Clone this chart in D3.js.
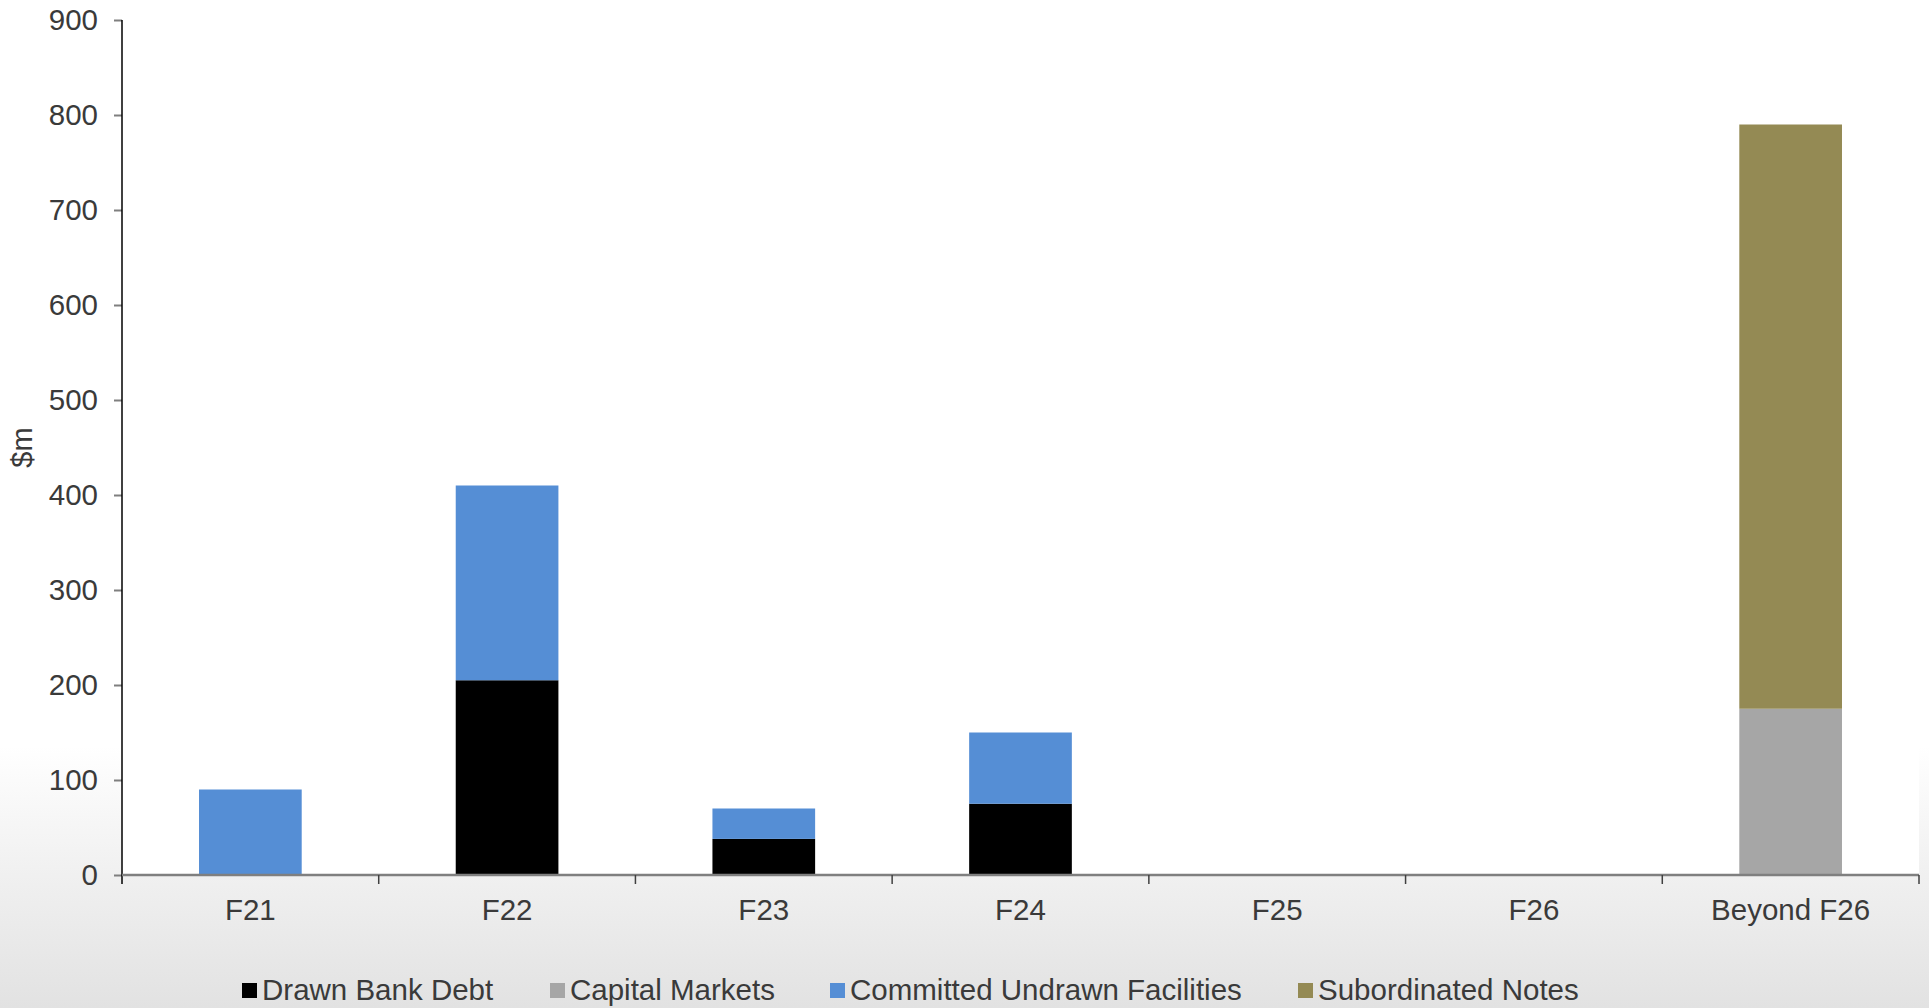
<!DOCTYPE html>
<html>
<head>
<meta charset="utf-8">
<script src="https://cdn.jsdelivr.net/npm/d3@7"></script>
<style>
  html, body { margin: 0; padding: 0; }
  body { width: 1929px; height: 1008px; overflow: hidden; font-family: "Liberation Sans", Arial, sans-serif; }
  .axis text { fill: #3a3a3a; font-size: 29.5px; font-family: "Liberation Sans", Arial, sans-serif; }
</style>
</head>
<body>
<div id="chart"></div>
<script>
// data ($m)
var categories = ["F21", "F22", "F23", "F24", "F25", "F26", "Beyond F26"];
var seriesNames = ["Drawn Bank Debt", "Capital Markets", "Committed Undrawn Facilities", "Subordinated Notes"];
var drawnBankDebt = [0, 205, 38, 75, 0, 0, 0];
var capitalMarkets = [0, 0, 0, 0, 0, 0, 175];
var committedUndrawn = [90, 205, 32, 75, 0, 0, 0];
var subordinatedNotes = [0, 0, 0, 0, 0, 0, 615];
var yTicks = [0, 100, 200, 300, 400, 500, 600, 700, 800, 900];
var colors = ["#000000", "#a6a6a6", "#558ed5", "#948a54"];

var W = 1929, H = 1008;
var margin = {top: 20, right: 10, bottom: 133, left: 122};

var svg = d3.select("#chart").append("svg")
    .attr("width", W)
    .attr("height", H);

// slide-ish background: white fading to light grey at the bottom
var defs = svg.append("defs");
var grad = defs.append("linearGradient")
    .attr("id", "bg")
    .attr("x1", 0).attr("y1", 0).attr("x2", 0).attr("y2", 1);
grad.append("stop").attr("offset", "0%").attr("stop-color", "#ffffff");
grad.append("stop").attr("offset", "74%").attr("stop-color", "#ffffff");
grad.append("stop").attr("offset", "86%").attr("stop-color", "#f1f1f1");
grad.append("stop").attr("offset", "100%").attr("stop-color", "#e2e2e2");
svg.append("rect").attr("width", W).attr("height", H).attr("fill", "url(#bg)");

var x0 = margin.left, x1 = W - margin.right;
var y0 = H - margin.bottom, y1 = margin.top;

// plot area stays white
svg.append("rect")
    .attr("x", x0).attr("y", y1)
    .attr("width", x1 - x0).attr("height", y0 - y1)
    .attr("fill", "#ffffff");

var x = d3.scaleBand()
    .domain(categories)
    .range([x0, x1])
    .paddingInner(0.6)
    .paddingOuter(0.3);

var y = d3.scaleLinear()
    .domain([0, 900])
    .range([y0, y1]);

var table = categories.map(function (c, i) {
    return {
        cat: c,
        "Drawn Bank Debt": drawnBankDebt[i],
        "Capital Markets": capitalMarkets[i],
        "Committed Undrawn Facilities": committedUndrawn[i],
        "Subordinated Notes": subordinatedNotes[i]
    };
});

var stacked = d3.stack().keys(seriesNames)(table);

var layers = svg.append("g").selectAll("g")
    .data(stacked)
    .enter().append("g")
    .attr("fill", function (d, i) { return colors[i]; });

layers.selectAll("rect")
    .data(function (d) { return d; })
    .enter().append("rect")
    .filter(function (d) { return d[1] - d[0] > 0; })
    .attr("x", function (d) { return x(d.data.cat); })
    .attr("y", function (d) { return y(d[1]); })
    .attr("width", x.bandwidth())
    .attr("height", function (d) { return y(d[0]) - y(d[1]); });

/* y axis */
var yAxis = svg.append("g")
    .attr("class", "axis")
    .attr("transform", "translate(" + x0 + ",0)")
    .call(d3.axisLeft(y).tickValues(yTicks).tickSize(8).tickPadding(16));
yAxis.select(".domain").remove();
yAxis.selectAll(".tick line").attr("stroke", "#7f7f7f").attr("stroke-width", 2);
svg.append("line")
    .attr("x1", x0).attr("x2", x0)
    .attr("y1", y1).attr("y2", y0 + 9)
    .attr("stroke", "#000").attr("stroke-width", 1.5);

/* x axis */
var xAxis = svg.append("g")
    .attr("class", "axis")
    .attr("transform", "translate(0," + y0 + ")")
    .call(d3.axisBottom(x).tickSize(0).tickPadding(24));
xAxis.select(".domain").remove();
svg.append("line")
    .attr("x1", x0).attr("x2", x1)
    .attr("y1", y0).attr("y2", y0)
    .attr("stroke", "#7f7f7f").attr("stroke-width", 2.5);

// tick marks sit on the category boundaries
var step = x.step();
var bounds = categories.map(function (c) { return x(c) - step * x.paddingInner() / 2; });
bounds.push(x1);
svg.append("g").selectAll("line")
    .data(bounds.slice(1))
    .enter().append("line")
    .attr("x1", function (d) { return d; })
    .attr("x2", function (d) { return d; })
    .attr("y1", y0)
    .attr("y2", y0 + 9)
    .attr("stroke", "#404040").attr("stroke-width", 1.5);

/* y label */
svg.append("text")
    .attr("transform", "translate(32," + ((y0 + y1) / 2) + ") rotate(-90)")
    .attr("text-anchor", "middle")
    .attr("fill", "#3a3a3a")
    .style("font-size", "29px")
    .text("$m");

/* legend */
var legend = svg.append("g").attr("transform", "translate(0,990)");
var item = legend.selectAll("g")
    .data(seriesNames)
    .enter().append("g");
item.append("rect")
    .attr("x", 0).attr("y", -7)
    .attr("width", 15).attr("height", 15)
    .attr("fill", function (d, i) { return colors[i]; });
item.append("text")
    .attr("x", 20)
    .attr("dy", "0.35em")
    .attr("fill", "#3a3a3a")
    .style("font-size", "29.5px")
    .text(function (d) { return d; });

var pos = [242, 550, 830, 1298];
item.attr("transform", function (d, i) { return "translate(" + pos[i] + ",0)"; });
</script>
</body>
</html>
